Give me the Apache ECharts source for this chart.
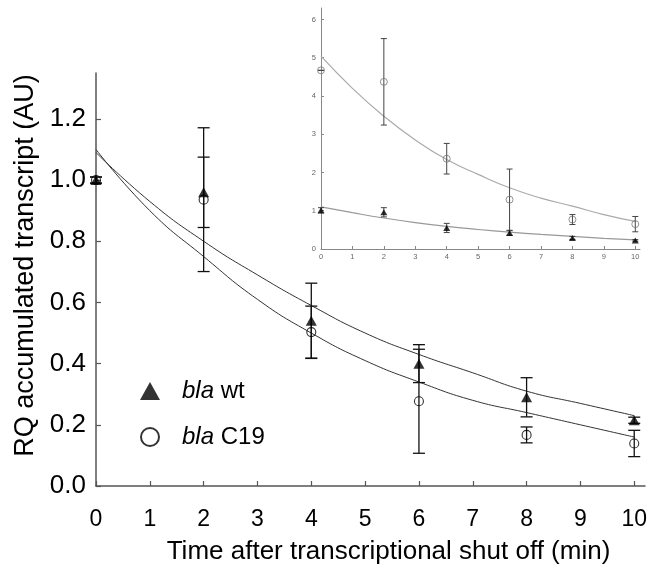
<!DOCTYPE html>
<html>
<head>
<meta charset="utf-8">
<script src="https://cdn.jsdelivr.net/npm/echarts@6/dist/echarts.min.js"></script>
<style>html,body{margin:0;padding:0;background:#fff}#c{width:654px;height:576px}</style>
</head>
<body>
<div id="c"></div>
<script>
// ---- Main chart data (normalized) ----
var times = [0, 2, 4, 6, 8, 10];
var wtMean = [1.0, 0.96, 0.54, 0.40, 0.29, 0.215];
var wtErr = [0.01, 0.115, 0.123, 0.062, 0.064, 0.01];
var c19Mean = [1.0, 0.936, 0.503, 0.277, 0.167, 0.139];
var c19Err = [0.01, 0.235, 0.085, 0.17, 0.026, 0.043];
var fitTimes = [0, 1, 2, 3, 4, 5, 6, 7, 8, 9, 10];
var wtFit = [1.09, 0.93, 0.80, 0.69, 0.59, 0.50, 0.43, 0.37, 0.31, 0.27, 0.23];
var c19Fit = [1.10, 0.90, 0.75, 0.61, 0.50, 0.41, 0.34, 0.28, 0.24, 0.20, 0.16];
var xTicks = [0, 1, 2, 3, 4, 5, 6, 7, 8, 9, 10];
var yTicks = [0, 0.2, 0.4, 0.6, 0.8, 1.0, 1.2];

// ---- Inset data (raw) ----
var insetWtMean = [1.01, 0.96, 0.55, 0.42, 0.29, 0.225];
var insetWtErr = [0.07, 0.12, 0.12, 0.06, 0.04, 0.02];
var insetC19Mean = [4.67, 4.37, 2.36, 1.29, 0.77, 0.65];
var insetC19Err = [0, 1.13, 0.40, 0.80, 0.13, 0.20];
var insetWtFit = [1.10, 0.95, 0.81, 0.69, 0.59, 0.51, 0.44, 0.38, 0.33, 0.28, 0.24];
var insetC19Fit = [5.04, 4.20, 3.47, 2.85, 2.34, 1.95, 1.60, 1.33, 1.12, 0.90, 0.72];
var insetYTicks = [0, 1, 2, 3, 4, 5, 6];

var FONT = 'Liberation Sans, Arial, sans-serif';

function pairs(xs, ys) { return xs.map(function (x, i) { return [x, ys[i]]; }); }

function errSeries(xi, yi, means, errs, half, color, lw) {
  return {
    type: 'custom', xAxisIndex: xi, yAxisIndex: yi, z: 2, silent: true,
    data: times.map(function (t, i) { return [t, means[i] - errs[i], means[i] + errs[i]]; }),
    encode: { x: 0, y: [1, 2] },
    renderItem: function (params, api) {
      var lo = api.coord([api.value(0), api.value(1)]);
      var hi = api.coord([api.value(0), api.value(2)]);
      var st = { stroke: color, lineWidth: lw, fill: null };
      return {
        type: 'group', children: [
          { type: 'line', shape: { x1: lo[0], y1: lo[1], x2: hi[0], y2: hi[1] }, style: st },
          { type: 'line', shape: { x1: lo[0] - half, y1: lo[1], x2: lo[0] + half, y2: lo[1] }, style: st },
          { type: 'line', shape: { x1: hi[0] - half, y1: hi[1], x2: hi[0] + half, y2: hi[1] }, style: st }
        ]
      };
    }
  };
}

function fitSeries(xi, yi, vals, color, w) {
  return {
    type: 'line', xAxisIndex: xi, yAxisIndex: yi, data: pairs(fitTimes, vals), smooth: true,
    showSymbol: false, symbol: 'none', silent: true, z: 1,
    lineStyle: { color: color, width: w }
  };
}

var chart = echarts.init(document.getElementById('c'), null, { renderer: 'canvas' });
chart.setOption({
  animation: false,
  backgroundColor: '#fff',
  textStyle: { fontFamily: FONT },
  grid: [
    { left: 96, right: 9, top: 73, bottom: 90 },
    { left: 321, right: 14, top: 8, bottom: 327 }
  ],
  legend: {
    orient: 'vertical', left: 135, top: 374, itemWidth: 20, itemHeight: 18, itemGap: 22,
    data: ['bla wt', 'bla C19'],
    formatter: function (name) { return '{s|}{i|bla} ' + name.slice(4); },
    textStyle: {
      fontSize: 24, color: '#000', fontFamily: FONT,
      rich: {
        s: { width: 17 },
        i: { fontStyle: 'italic', fontSize: 24, fontFamily: FONT, color: '#000' }
      }
    }
  },
  xAxis: [
    {
      type: 'value', gridIndex: 0, min: 0, max: 10.2,
      name: 'Time after transcriptional shut off (min)', nameLocation: 'middle', nameGap: 53,
      nameMoveOverlap: false,
      nameTextStyle: { fontSize: 26, color: '#000', fontFamily: FONT, padding: [0, 0, 0, 36] },
      axisLine: { lineStyle: { color: '#555', width: 1.5 } },
      axisTick: { inside: true, length: 5, customValues: xTicks, lineStyle: { color: '#555', width: 1.2 } },
      axisLabel: { customValues: xTicks, fontSize: 23, color: '#000', margin: 22, fontFamily: FONT },
      splitLine: { show: false }
    },
    {
      type: 'value', gridIndex: 1, min: 0, max: 10.15,
      axisLine: { lineStyle: { color: '#888', width: 1 } },
      axisTick: { inside: true, length: 3, customValues: xTicks, lineStyle: { color: '#888' } },
      axisLabel: { customValues: xTicks, fontSize: 7.5, color: '#666', margin: 4, fontFamily: FONT },
      splitLine: { show: false }
    }
  ],
  yAxis: [
    {
      type: 'value', gridIndex: 0, min: 0, max: 1.35,
      name: 'RQ accumulated transcript (AU)', nameLocation: 'middle', nameGap: 57,
      nameMoveOverlap: false,
      nameTextStyle: { fontSize: 27, color: '#000', fontFamily: FONT, padding: [0, 0, 0, 28] },
      axisLine: { lineStyle: { color: '#555', width: 1.5 } },
      axisTick: { inside: true, length: 5, customValues: yTicks, lineStyle: { color: '#555', width: 1.2 } },
      axisLabel: { customValues: yTicks, fontSize: 26, color: '#000', margin: 10, fontFamily: FONT,
        formatter: function (v) { return v.toFixed(1); } },
      splitLine: { show: false }
    },
    {
      type: 'value', gridIndex: 1, min: 0, max: 6.3,
      axisLine: { lineStyle: { color: '#888', width: 1 } },
      axisTick: { inside: true, length: 3, customValues: insetYTicks, lineStyle: { color: '#888' } },
      axisLabel: { customValues: insetYTicks, fontSize: 7.5, color: '#666', margin: 5, fontFamily: FONT },
      splitLine: { show: false }
    }
  ],
  series: [
    fitSeries(0, 0, wtFit, '#333', 1),
    fitSeries(0, 0, c19Fit, '#333', 1),
    errSeries(0, 0, wtMean, wtErr, 6, '#111', 1.3),
    errSeries(0, 0, c19Mean, c19Err, 6, '#111', 1.3),
    {
      name: 'bla wt', type: 'scatter', xAxisIndex: 0, yAxisIndex: 0, z: 3,
      data: pairs(times, wtMean), symbol: 'triangle', symbolSize: [11, 10],
      itemStyle: { color: '#000' }
    },
    {
      name: 'bla C19', type: 'scatter', xAxisIndex: 0, yAxisIndex: 0, z: 3,
      data: pairs(times, c19Mean), symbol: 'circle', symbolSize: 9,
      itemStyle: { color: 'rgba(255,255,255,0)', borderColor: '#000', borderWidth: 1.1 }
    },
    fitSeries(1, 1, insetWtFit, '#999', 1.2),
    fitSeries(1, 1, insetC19Fit, '#aaa', 1.2),
    errSeries(1, 1, insetWtMean, insetWtErr, 3, '#444', 1),
    errSeries(1, 1, insetC19Mean, insetC19Err, 3, '#444', 1),
    {
      name: 'inset wt', type: 'scatter', xAxisIndex: 1, yAxisIndex: 1, z: 3,
      data: pairs(times, insetWtMean), symbol: 'triangle', symbolSize: [7, 6],
      itemStyle: { color: '#000' }
    },
    {
      name: 'inset C19', type: 'scatter', xAxisIndex: 1, yAxisIndex: 1, z: 3,
      data: pairs(times, insetC19Mean), symbol: 'circle', symbolSize: 7,
      itemStyle: { color: 'rgba(255,255,255,0)', borderColor: '#777', borderWidth: 1 }
    }
  ]
});
</script>
</body>
</html>
